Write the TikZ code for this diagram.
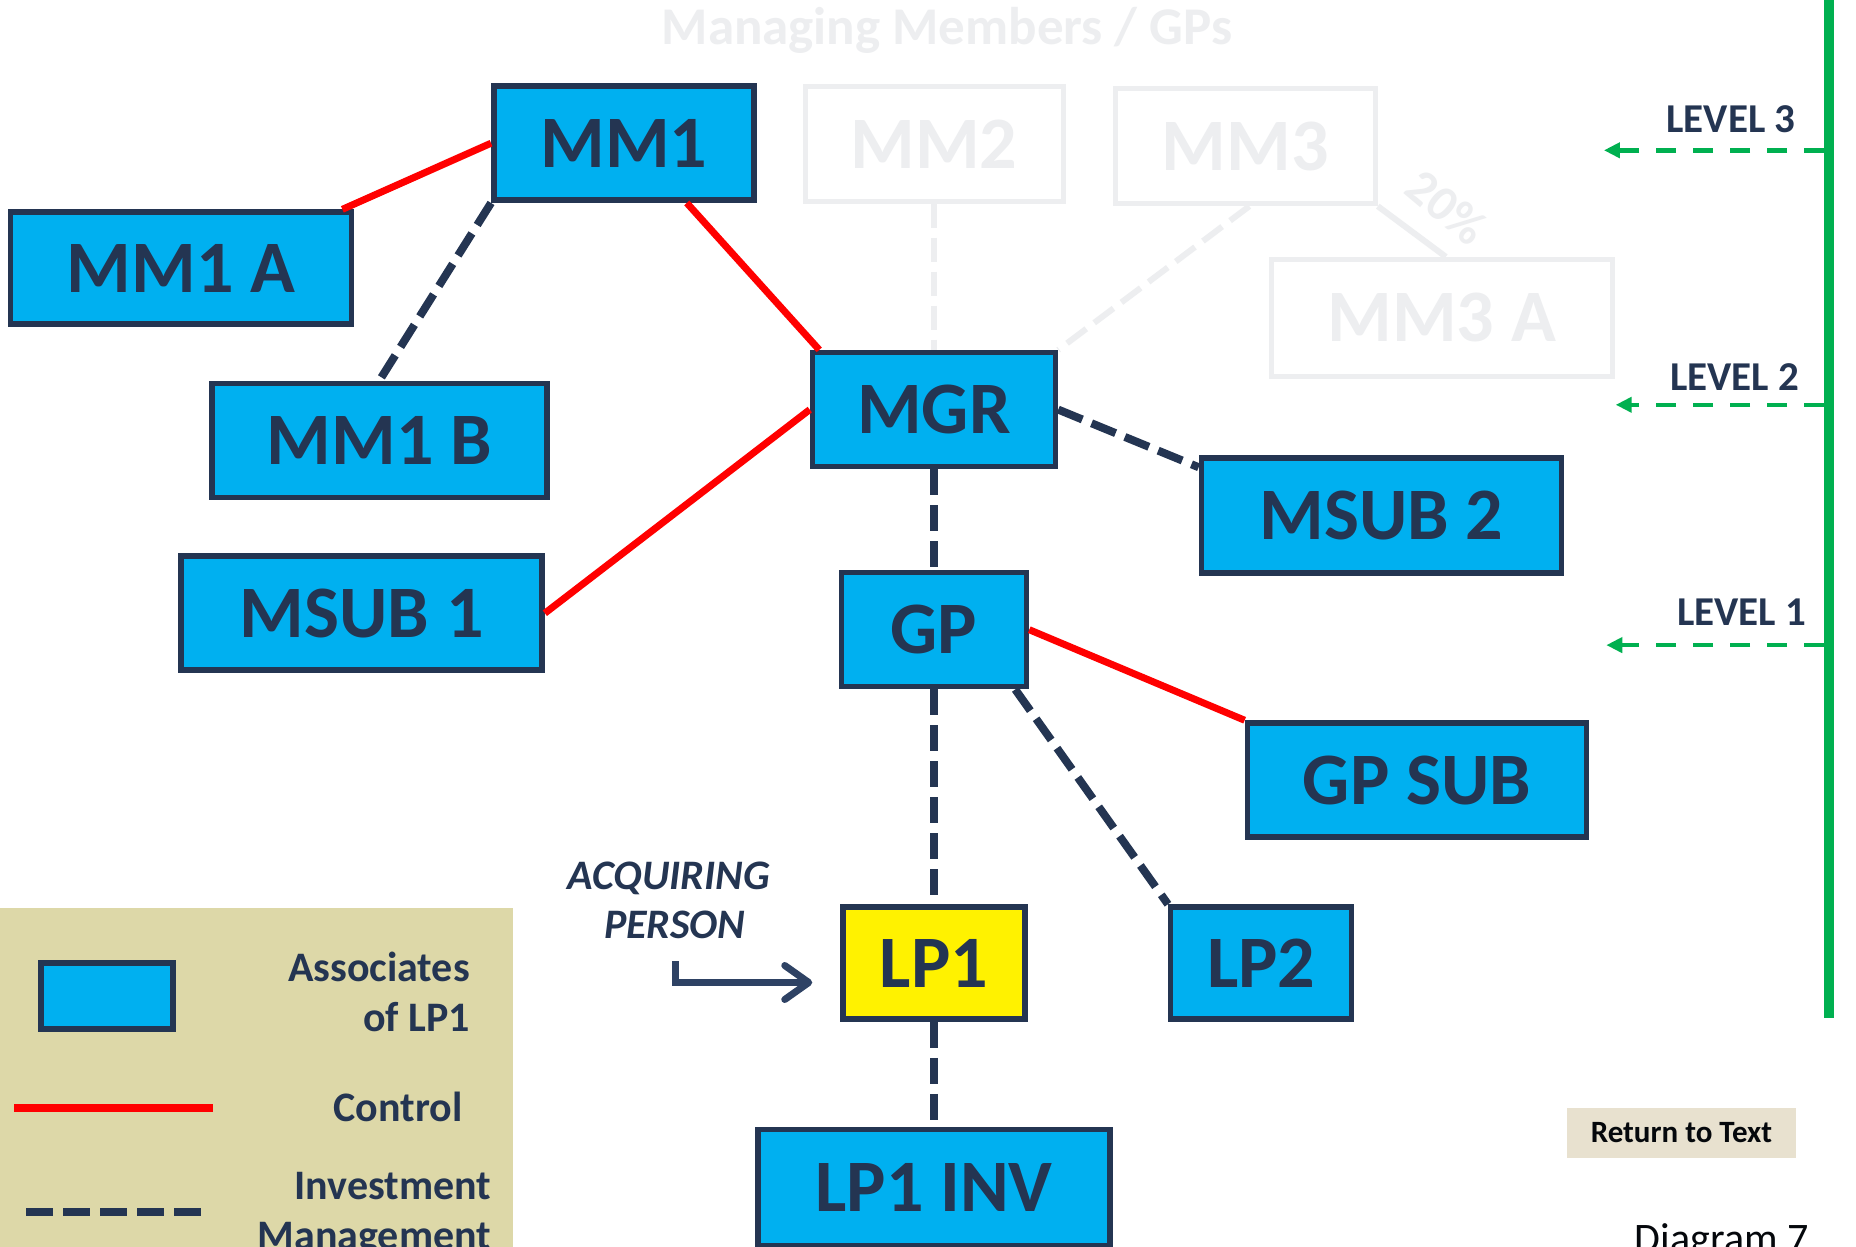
\documentclass[tikz,border=0pt]{standalone}
\usepackage{fontspec}
\setmainfont{Carlito}
\usetikzlibrary{calc,arrows.meta}
\definecolor{navy}{HTML}{243552}
\definecolor{sky}{HTML}{00B0F0}
\definecolor{faint}{HTML}{EDEEF0}
\definecolor{grn}{HTML}{00B050}
\definecolor{legtan}{HTML}{DDD8A8}
\definecolor{rtan}{HTML}{E8E1CF}
\definecolor{arrnavy}{HTML}{2E4264}
\tikzset{
  ent/.style={draw=navy, line width=5.5pt, fill=sky, text=navy, inner sep=0pt,
    font=\fontsize{74}{74}\selectfont\bfseries},
  lp/.style={ent, fill=yellow},
  ghost/.style={draw=faint, line width=5pt, fill=white, text=faint, inner sep=0pt,
    font=\fontsize{74}{74}\selectfont\bfseries},
  ctrl/.style={draw=red, line width=7pt},
  invm/.style={draw=navy, line width=8pt, dash pattern=on 26pt off 10pt},
  ghostline/.style={draw=faint, line width=6pt},
  ghostdash/.style={draw=faint, line width=6pt, dash pattern=on 24pt off 10pt},
  lvl/.style={draw=grn, line width=4.5pt, dash pattern=on 20pt off 17pt,
    -{Triangle[length=16pt,width=15pt]}},
  lvltext/.style={text=navy, font=\fontsize{41}{41}\selectfont\bfseries, anchor=base east, inner sep=0pt},
  legtext/.style={text=navy, font=\fontsize{42}{42}\selectfont\bfseries, anchor=base east, inner sep=0pt},
  acqtext/.style={text=navy, font=\fontsize{42}{42}\selectfont\bfseries\itshape, anchor=base, inner sep=0pt},
  acqarrow/.style={draw=arrnavy, line width=7pt,
    -{Straight Barb[length=24pt,width=34pt,line width=7pt,round]}},
}
\begin{document}
\begin{tikzpicture}[x=1pt,y=-1pt]
\useasboundingbox (0,0) rectangle (1856,1247);
\fill[white] (0,0) rectangle (1856,1247);

% faded background part
\node[text=faint, font=\fontsize{53}{53}\selectfont\bfseries, inner sep=0pt] (title) at (947,30) {Managing Members / GPs};
\node[ghost, minimum width=258pt, minimum height=115pt] (MM2) at (934,143.8) {MM2};
\node[ghost, minimum width=260pt, minimum height=115pt] (MM3) at (1245.3,146.2) {MM3};
\node[ghost, minimum width=341pt, minimum height=117pt] (MM3A) at (1441.8,317.8) {MM3 A};
\draw[ghostline] (MM3.south east) -- ($(MM3A.north)+(4,0)$);
\node[text=faint, font=\fontsize{50}{50}\selectfont\bfseries, rotate=-40, inner sep=0pt] (pct) at (1447,207) {20\%};

% legend background
\fill[legtan] (0,908) rectangle (512.5,1247);

% main boxes
\node[ent, minimum width=260pt, minimum height=114pt] (MM1) at (623.8,143.2) {MM1};
\node[ent, minimum width=341pt, minimum height=112pt] (MM1A) at (181.1,268.1) {MM1 A};
\node[ent, minimum width=335pt, minimum height=114pt] (MM1B) at (379.4,440.3) {MM1 B};
\node[ent, minimum width=361pt, minimum height=114pt] (MSUB1) at (361.6,613.2) {MSUB 1};
\node[ent, minimum width=243pt, minimum height=114pt] (MGR) at (934,409.6) {MGR};
\node[ent, minimum width=360pt, minimum height=115pt] (MSUB2) at (1381.4,515.5) {MSUB 2};
\node[ent, minimum width=185pt, minimum height=114pt] (GP) at (934,629.7) {GP};
\node[ent, minimum width=339pt, minimum height=114pt] (GPSUB) at (1416.9,780) {GP SUB};
\node[lp, minimum width=182pt, minimum height=112pt] (LP1) at (934,963) {LP1};
\node[ent, minimum width=181pt, minimum height=112pt] (LP2) at (1261.2,963) {LP2};
\node[ent, minimum width=352pt, minimum height=116pt] (LP1INV) at (934,1187.3) {LP1 INV};

% faded connectors into MGR
\draw[ghostdash] (MM2.south) -- (MGR.north);
\draw[ghostdash] ($(MM3.south)+(4,0)$) -- (MGR.north east);

% connectors
\draw[ctrl] (MM1.west) -- ($(MM1A.north east)+(-12,0)$);
\draw[invm] (MM1.south west) -- (MM1B.north);
\draw[ctrl] ($(MM1.south)+(63,0)$) -- ($(MGR.north west)+(9.5,0)$);
\draw[ctrl] (MGR.west) -- (MSUB1.east);
\draw[invm] (MGR.east) -- ($(MSUB2.north west)+(0,12)$);
\draw[invm] (MGR.south) -- (GP.north);
\draw[ctrl] (GP.east) -- (GPSUB.north west);
\draw[invm] (GP.south) -- (LP1.north);
\draw[invm] ($(GP.south east)+(-14,0)$) -- (LP2.north west);
\draw[invm] (LP1.south) -- (LP1INV.north);

% levels
\coordinate (gtop) at (1828.8,0);
\coordinate (gbot) at (1828.8,1018);
\draw[grn, line width=9.5pt] (gtop) -- (gbot);
\coordinate (l3s) at (1824,150.3);
\coordinate (l3e) at (1603.9,150.3);
\coordinate (l2s) at (1824,404.8);
\coordinate (l2e) at (1615.7,404.8);
\coordinate (l1s) at (1824,645.1);
\coordinate (l1e) at (1606.3,645.1);
\draw[lvl] (l3s) -- (l3e);
\draw[lvl] (l2s) -- (l2e);
\draw[lvl] (l1s) -- (l1e);
\node[lvltext] (L3) at (1795.7,132.6) {LEVEL 3};
\node[lvltext] (L2) at (1799.2,390.6) {LEVEL 2};
\node[lvltext] (L1) at (1806.3,625) {LEVEL 1};

% acquiring person
\node[acqtext] (acq1) at (668.8,889) {ACQUIRING};
\node[acqtext] (acq2) at (674.7,938.7) {PERSON};
\coordinate (acqstart) at (675,961);
\draw[acqarrow] (acqstart) |- ($(LP1.west)+(-28,19.5)$);

% legend
\node[draw=navy, line width=6pt, fill=sky, minimum width=132pt, minimum height=66pt, inner sep=0pt] (legbox) at (106.5,995.5) {};
\coordinate (redA) at (14.2,1108);
\coordinate (redB) at (213,1108);
\draw[draw=red, line width=8pt] (redA) -- (redB);
\coordinate (dashA) at (26,1212);
\coordinate (dashB) at (203.6,1212);
\draw[draw=navy, line width=8pt, dash pattern=on 27pt off 10pt] (dashA) -- (dashB);
\node[legtext] (t1) at (470,981) {Associates};
\node[legtext] (t2) at (470,1031) {of LP1};
\node[legtext] (t3) at (462.8,1121) {Control};
\node[legtext] (t4) at (491.2,1199) {Investment};
\node[legtext] (t5) at (491.2,1249) {Management};

% return to text / diagram label
\node[fill=rtan, minimum width=228.5pt, minimum height=49.7pt, inner sep=0pt,
  text=black!85!navy, font=\fontsize{31}{31}\selectfont\bfseries] (ret) at (1681.5,1132.8) {Return to Text};
\node[text=black!85!navy, font=\fontsize{42}{42}\selectfont, anchor=base west, inner sep=0pt] (diag) at (1634.7,1252) {Diagram 7};
\end{tikzpicture}
\end{document}
